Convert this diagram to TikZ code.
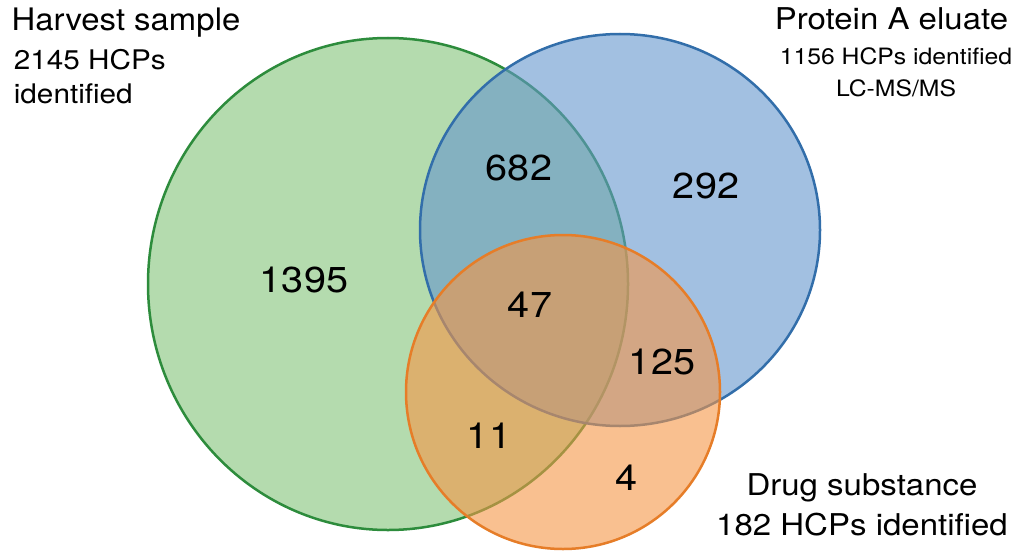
\documentclass[tikz,border=0pt]{standalone}
\usepackage{fontspec}
\setmainfont{TeX Gyre Heros}
\definecolor{gfill}{RGB}{130,195,120}
\definecolor{gline}{RGB}{45,140,60}
\definecolor{bfill}{RGB}{100,150,205}
\definecolor{bline}{RGB}{50,110,170}
\definecolor{ofill}{RGB}{245,150,70}
\definecolor{oline}{RGB}{230,125,40}
\begin{document}
\begin{tikzpicture}[x=1pt,y=-1pt,
  set/.style={line width=2.5pt,fill opacity=0.6},
  num/.style={font=\fontsize{36}{40}\selectfont,xscale=1.1},
  lab/.style={align=left,anchor=north west}]
\useasboundingbox[fill=white] (0,0) rectangle (1024,559);
\filldraw[gfill,set,draw=gline] (388,284) ellipse[x radius=240,y radius=246];
\filldraw[bfill,set,draw=bline] (620,230) ellipse[x radius=200,y radius=196];
\filldraw[ofill,set,draw=oline] (563,392) ellipse[x radius=157,y radius=157];
\node[lab,font=\fontsize{31}{34}\selectfont,xscale=1.06] (h) at (8,4) {Harvest sample};
\node[lab,font=\fontsize{27}{34}\selectfont,xscale=1.1] (h2) at (10,46) {2145 HCPs\\identified};
\node[anchor=north east,font=\fontsize{30}{34}\selectfont,xscale=1.1] (p) at (1012,4) {Protein A eluate};
\node[anchor=north,align=center,font=\fontsize{22.5}{32}\selectfont,xscale=1.1] (p2) at (896,44) {1156 HCPs identified\\LC-MS/MS};
\node[anchor=center,align=center,font=\fontsize{30}{40}\selectfont,xscale=1.1] (d) at (862,505) {Drug substance\\182 HCPs identified};
\node[num] (n1) at (304,280) {1395};
\node[num] (n2) at (519,168) {682};
\node[num] (n3) at (706,186) {292};
\node[num] (n4) at (530,305) {47};
\node[num] (n5) at (662,362) {125};
\node[num] (n6) at (489,436) {11};
\node[num] (n7) at (626,478) {4};
\end{tikzpicture}
\end{document}
